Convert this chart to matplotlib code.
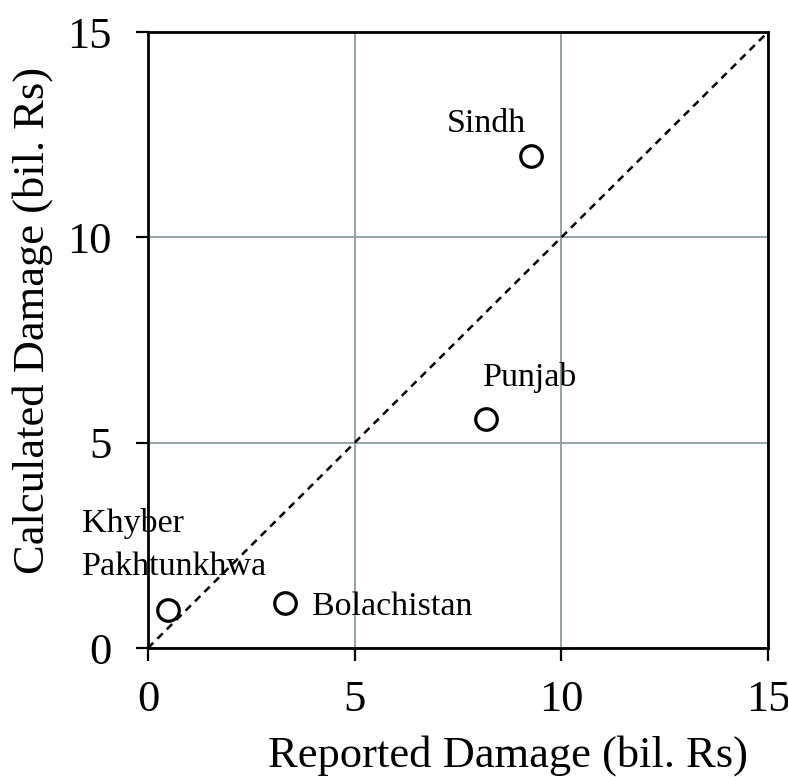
import matplotlib
matplotlib.use("Agg")
import matplotlib.pyplot as plt

# province damage (bil. Rs)
provinces = ["Sindh", "Punjab", "Bolachistan", "Khyber\nPakhtunkhwa"]
reported = [9.27, 8.18, 3.31, 0.48]
calculated = [11.97, 5.58, 1.09, 0.92]

plt.rcParams["font.family"] = ["Liberation Serif", "DejaVu Serif"]

fig = plt.figure(figsize=(7.88, 7.77), dpi=100)
ax = fig.add_axes([0.1878, 0.166, 0.7868, 0.7928])

ax.grid(True, color="#8c9ca2", linewidth=1.3)
ax.set_axisbelow(True)

ax.plot([0, 15], [0, 15], linestyle=(0, (3, 2.3)), color="black", linewidth=1.8)
ax.plot(reported, calculated, linestyle="none", marker="o", markersize=15.5,
        markerfacecolor="white", markeredgecolor="black", markeredgewidth=2.3,
        clip_on=False)

# label offset from its point (data units), left edge / first baseline
offsets = {"Sindh": (-2.04, 0.60),
           "Punjab": (-0.075, 0.80),
           "Bolachistan": (0.66, -0.29),
           "Khyber\nPakhtunkhwa": (-2.077, 1.90)}
line_step = 1.04
for name, x, y in zip(provinces, reported, calculated):
    dx, dy = offsets[name]
    for i, line in enumerate(name.split("\n")):
        ax.text(x + dx, y + dy - i * line_step, line, fontsize=24.5,
                ha="left", va="baseline", clip_on=False)

ax.set_xlim(0, 15)
ax.set_ylim(0, 15)
ax.set_xticks([0, 5, 10, 15])
ax.set_yticks([0, 5, 10, 15])
ax.tick_params(direction="out", length=9, width=1.6, labelsize=32)
ax.tick_params(axis="x", pad=14)
ax.tick_params(axis="y", pad=17)
for s in ax.spines.values():
    s.set_linewidth(2)

ax.set_xlabel("Reported Damage (bil. Rs)", fontsize=32, va="baseline")
ax.xaxis.set_label_coords(0.5806, -0.193)
ax.set_ylabel("Calculated Damage (bil. Rs)", fontsize=32, va="center", ha="center")
ax.yaxis.set_label_coords(-0.187, 0.531)

fig.savefig("out.png", dpi=100)
